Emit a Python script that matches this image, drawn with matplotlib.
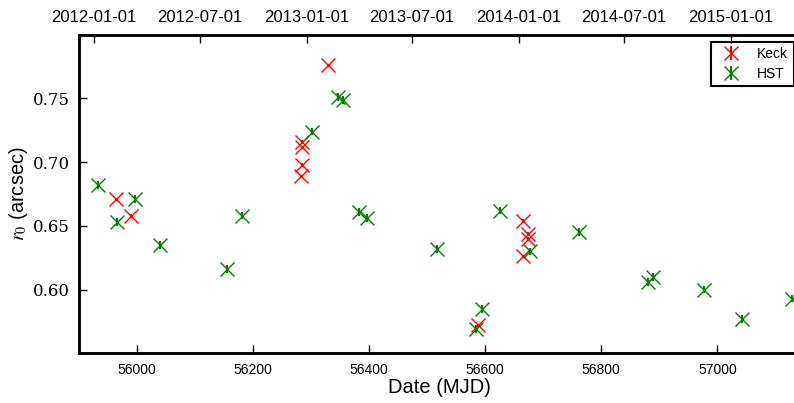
import datetime
import numpy as np
import matplotlib
matplotlib.use('Agg')
import matplotlib.pyplot as plt

plt.rcParams['font.family'] = ['Liberation Sans', 'DejaVu Sans']
plt.rcParams['mathtext.fontset'] = 'stix'

# Keck measurements
keck_mjd = [55965, 55991, 56283, 56284, 56284, 56285, 56329, 56587,
            56666, 56674, 56674, 56666]
keck_r0 = [0.671, 0.658, 0.689, 0.698, 0.712, 0.716, 0.776, 0.572,
           0.654, 0.644, 0.640, 0.626]
keck_err = [0.001] * len(keck_mjd)

# HST measurements
hst_mjd = [55934, 55966, 55998, 56040, 56155, 56181, 56302, 56347, 56356,
           56383, 56396, 56517, 56585, 56594, 56626, 56677, 56761, 56880,
           56889, 56977, 57043, 57128]
hst_r0 = [0.682, 0.653, 0.671, 0.635, 0.616, 0.658, 0.724, 0.751, 0.749,
          0.661, 0.656, 0.632, 0.569, 0.585, 0.662, 0.630, 0.645, 0.606,
          0.610, 0.600, 0.577, 0.593]
hst_err = [0.003] * len(hst_mjd)

top_dates = ['2012-01-01', '2012-07-01', '2013-01-01', '2013-07-01',
             '2014-01-01', '2014-07-01', '2015-01-01']
y_ticks = [0.60, 0.65, 0.70, 0.75]


def to_mjd(s):
    d = datetime.date.fromisoformat(s)
    return (d - datetime.date(1858, 11, 17)).days


fig = plt.figure(figsize=(7.94, 4.03), dpi=100)
ax = fig.add_axes([0.0989, 0.1233, 0.9093, 0.7906])

ax.errorbar(keck_mjd, keck_r0, yerr=keck_err, fmt='x', color='red',
            ms=9.5, mew=1.0, elinewidth=1.5, capsize=0, label='Keck')
ax.errorbar(hst_mjd, hst_r0, yerr=hst_err, fmt='x', color='green',
            ms=9.5, mew=1.0, elinewidth=1.5, capsize=0, label='HST')

ax.set_xlim(55900, 57143)
ax.set_ylim(0.55, 0.80)
ax.set_yticks(y_ticks)
ax.set_yticklabels(['%.2f' % v for v in y_ticks], family='DejaVu Serif', fontsize=12)
ax.tick_params(axis='y', direction='in', length=6, width=1, pad=6, right=False)
ax.tick_params(axis='x', direction='in', length=6, width=1, pad=7,
               labelsize=10, top=False)

ax.set_xlabel('Date (MJD)', fontsize=14.5, labelpad=1)
ax.set_ylabel(r'$r_0$ (arcsec)', fontsize=14.5, labelpad=2)

for sp in ax.spines.values():
    sp.set_linewidth(1.8)

ax2 = ax.twiny()
ax2.set_xlim(ax.get_xlim())
ax2.set_xticks([to_mjd(s) for s in top_dates])
ax2.set_xticklabels(top_dates, fontsize=12)
ax2.tick_params(axis='x', direction='in', length=6, width=1, pad=7)
for sp in ax2.spines.values():
    sp.set_linewidth(1.8)

leg = ax.legend(loc='upper right', fontsize=10, markerscale=1.0,
                fancybox=False, edgecolor='black', framealpha=1,
                borderaxespad=0.5, handlelength=2.0, handletextpad=0.9,
                labelspacing=0.4)
leg.get_frame().set_linewidth(1.5)
leg.set_zorder(5)

fig.savefig('out.png', dpi=100)
